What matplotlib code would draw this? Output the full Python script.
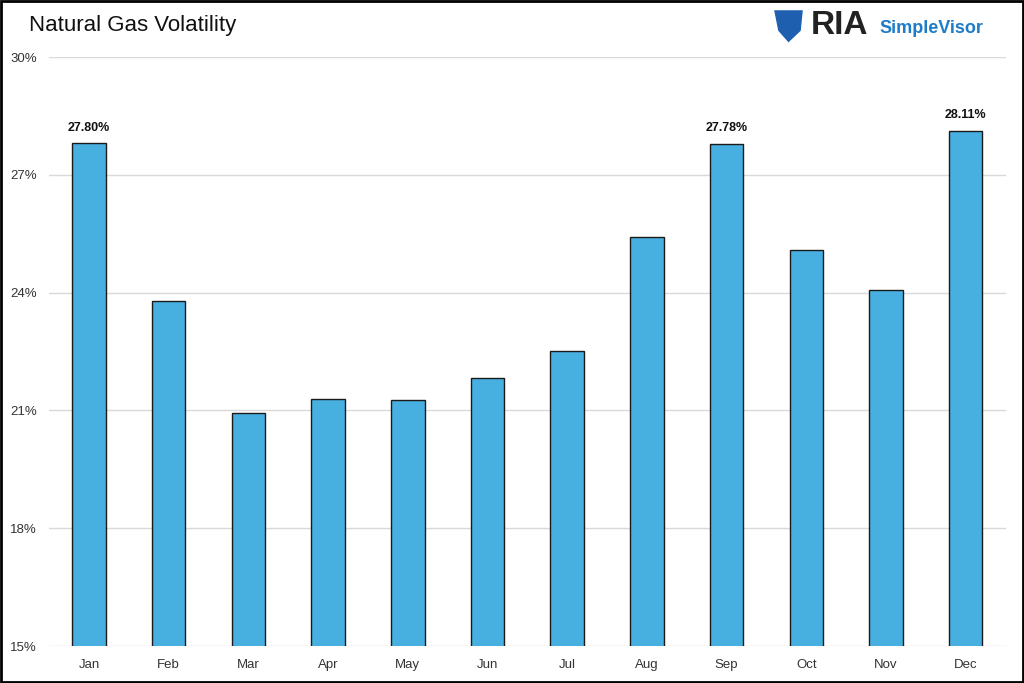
import matplotlib
matplotlib.use("Agg")
import matplotlib.pyplot as plt
from matplotlib.patches import Rectangle, Polygon
from matplotlib.ticker import FuncFormatter

plt.rcParams["font.family"] = ["Liberation Sans", "DejaVu Sans"]

months = ["Jan", "Feb", "Mar", "Apr", "May", "Jun",
          "Jul", "Aug", "Sep", "Oct", "Nov", "Dec"]
vol = [27.80, 23.79, 20.93, 21.29, 21.27, 21.83,
       22.51, 25.42, 27.78, 25.09, 24.07, 28.11]
labelled = ["Jan", "Sep", "Dec"]
yticks = [15, 18, 21, 24, 27, 30]

fig = plt.figure(figsize=(10.24, 6.83), dpi=100)
ax = fig.add_axes([0.048, 0.054, 0.934, 0.8625])

x = range(len(months))
ax.bar(x, vol, width=0.42, color="#47B0E0", edgecolor="#1a1a1a", linewidth=1.0, zorder=3)
for i, (m, v) in enumerate(zip(months, vol)):
    if m in labelled:
        ax.text(i, v + 0.25, f"{v:.2f}%", ha="center", va="bottom",
                fontsize=9, fontweight="bold", color="#111111")

ax.set_xlim(-0.5, len(months) - 0.5)
ax.set_ylim(15, 30)
ax.set_yticks(yticks)
ax.yaxis.set_major_formatter(FuncFormatter(lambda v, _: f"{v:.0f}%"))
ax.set_xticks(list(x))
ax.set_xticklabels(months)
ax.tick_params(axis="both", length=0, labelsize=9.5, colors="#333333")
ax.tick_params(axis="x", pad=9)
ax.tick_params(axis="y", pad=9)
ax.grid(axis="y", color="#d9d9d9", linewidth=1.0, zorder=0)
for s in ax.spines.values():
    s.set_visible(False)

fig.text(0.028, 0.962, "Natural Gas Volatility", fontsize=16, ha="left", va="center", color="#111111")

# logo
fig.text(0.792, 0.962, "RIA", fontsize=24, fontweight="bold", ha="left", va="center", color="#222222")
fig.text(0.859, 0.958, "SimpleVisor", fontsize=13, fontweight="bold", ha="left", va="center", color="#1E7CC8")
fig.patches.append(Polygon([(0.756, 0.985), (0.784, 0.985), (0.782, 0.955), (0.770, 0.938), (0.760, 0.955)],
                           closed=True, transform=fig.transFigure, facecolor="#1F5FB0", edgecolor="none"))

fig.patches.append(Rectangle((0.001, 0.001), 0.998, 0.998, transform=fig.transFigure,
                             fill=False, edgecolor="black", linewidth=2))

fig.savefig("out.png", dpi=100)
